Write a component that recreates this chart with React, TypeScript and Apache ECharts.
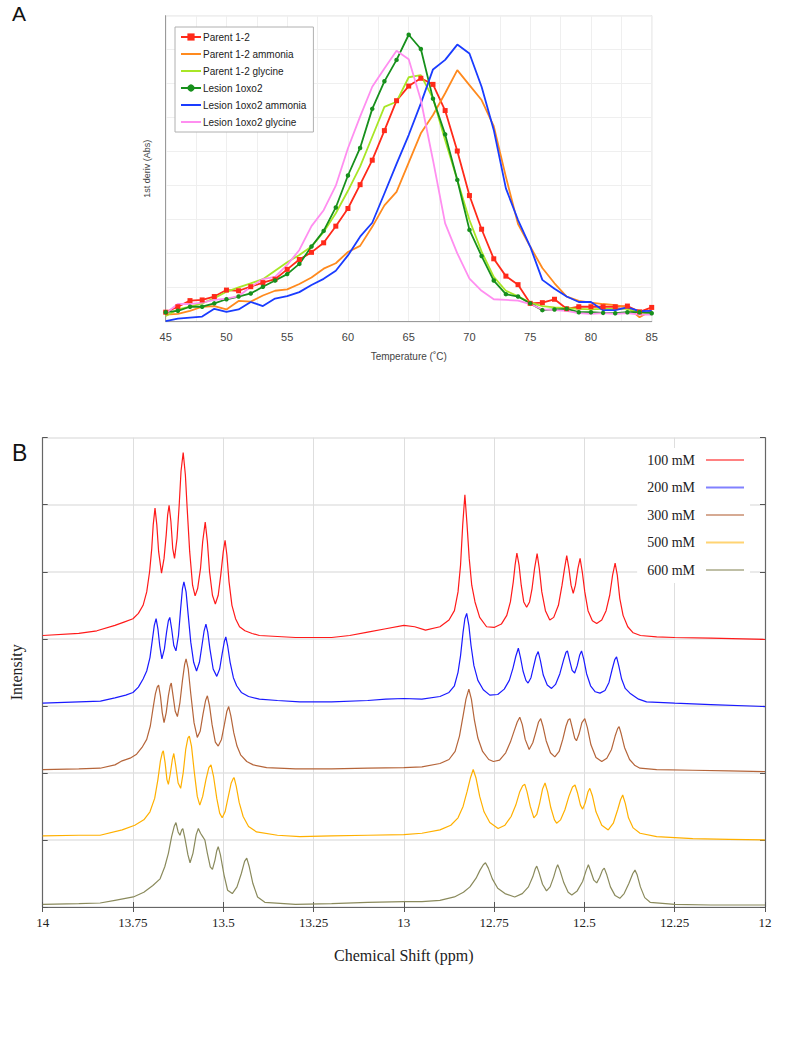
import React, { useEffect, useRef } from "react";
import * as echarts from "echarts";

// ---------- Panel A: melting curves (1st derivative) ----------
const temps = [45,46,47,48,49,50,51,52,53,54,55,56,57,58,59,60,61,62,63,64,65,66,67,68,69,70,71,72,73,74,75,76,77,78,79,80,81,82,83,84,85];
const parent12 = [0.28,0.44,0.62,0.64,0.74,0.93,0.91,1.03,1.15,1.25,1.54,1.83,2.04,2.32,2.81,3.33,4.03,4.75,5.62,6.5,6.93,7.16,6.98,6.21,5.02,3.71,2.72,1.85,1.34,1.09,0.54,0.56,0.66,0.38,0.44,0.44,0.44,0.44,0.46,0.29,0.42];
const parent12Ammonia = [0.21,0.23,0.32,0.44,0.46,0.36,0.61,0.59,0.77,0.91,0.95,1.11,1.3,1.56,1.72,2.05,2.23,2.79,3.42,3.82,4.68,5.54,6.08,6.72,7.4,6.96,6.52,5.75,4.26,2.87,2.21,1.58,1.13,0.74,0.61,0.56,0.52,0.49,0.42,0.13,0.34];
const parent12Glycine = [0.17,0.36,0.44,0.54,0.69,0.88,1.01,1.13,1.25,1.5,1.75,1.96,2.21,2.64,3.19,3.85,4.56,5.44,6.32,6.47,7.19,7.25,6.57,5.34,4.17,2.99,2.06,1.32,0.91,0.75,0.56,0.46,0.42,0.4,0.38,0.36,0.38,0.38,0.38,0.26,0.25];
const lesion1oxo2 = [0.28,0.32,0.44,0.44,0.54,0.66,0.74,0.83,1.03,1.21,1.4,1.7,2.21,2.67,3.36,4.3,5.11,6.26,7.07,7.7,8.44,8.02,6.56,5.51,4.17,2.7,1.93,1.21,0.81,0.74,0.54,0.34,0.36,0.38,0.28,0.28,0.26,0.25,0.28,0.28,0.25];
const lesion1oxo2Ammonia = [0.02,0.09,0.12,0.15,0.38,0.29,0.36,0.58,0.46,0.68,0.75,0.87,1.08,1.26,1.5,1.95,2.5,2.91,3.77,4.64,5.49,6.42,7.42,7.7,8.15,7.89,6.91,5.64,3.92,2.99,2.21,1.23,0.97,0.74,0.58,0.58,0.34,0.34,0.42,0.31,0.32];
const lesion1oxo2Glycine = [0.25,0.52,0.52,0.56,0.64,0.68,0.75,1.03,1.25,1.32,1.67,2.11,2.81,3.28,4.0,5.1,6.03,6.91,7.45,7.97,7.72,6.52,4.75,2.89,2.01,1.27,0.91,0.66,0.64,0.62,0.52,0.36,0.34,0.32,0.25,0.23,0.25,0.23,0.25,0.21,0.21];
const tempTicks = [45, 50, 55, 60, 65, 70, 75, 80, 85];

// ---------- Panel B: NMR imino spectra, [ppm, intensity] ----------
const spec100: [number, number][] = [
  [14.0,4.05],[13.9,4.08],[13.85,4.12],[13.8,4.2],[13.775,4.25],[13.75,4.3],[13.735,4.38],[13.722,4.5],[13.712,4.7],[13.704,5.0],[13.698,5.35],[13.694,5.7],[13.689,5.95],[13.684,5.7],[13.679,5.3],[13.671,4.98],[13.664,5.2],[13.658,5.55],[13.654,5.85],[13.65,5.99],[13.645,5.75],[13.64,5.35],[13.635,5.2],[13.628,5.5],[13.622,6.0],[13.617,6.5],[13.611,6.78],[13.605,6.45],[13.6,5.95],[13.593,5.3],[13.585,4.8],[13.578,4.64],[13.571,4.75],[13.563,5.05],[13.557,5.45],[13.55,5.74],[13.544,5.45],[13.538,5.0],[13.53,4.65],[13.522,4.52],[13.514,4.65],[13.507,4.95],[13.5,5.3],[13.495,5.47],[13.49,5.25],[13.484,4.85],[13.476,4.5],[13.466,4.3],[13.455,4.18],[13.44,4.12],[13.42,4.08],[13.4,4.05],[13.3,4.02],[13.2,4.02],[13.15,4.05],[13.1,4.1],[13.05,4.15],[13.0,4.2],[12.97,4.18],[12.94,4.13],[12.9,4.18],[12.875,4.28],[12.86,4.42],[12.85,4.7],[12.843,5.1],[12.837,5.7],[12.831,6.15],[12.825,5.7],[12.819,5.2],[12.812,4.8],[12.803,4.55],[12.79,4.32],[12.771,4.18],[12.75,4.17],[12.73,4.22],[12.715,4.35],[12.705,4.55],[12.697,4.85],[12.692,5.1],[12.687,5.28],[12.681,5.1],[12.675,4.8],[12.668,4.55],[12.66,4.47],[12.652,4.55],[12.645,4.75],[12.638,5.05],[12.631,5.27],[12.625,5.05],[12.618,4.7],[12.608,4.42],[12.596,4.28],[12.585,4.32],[12.572,4.5],[12.562,4.8],[12.555,5.05],[12.549,5.24],[12.543,5.05],[12.537,4.8],[12.531,4.68],[12.525,4.8],[12.518,5.05],[12.512,5.2],[12.506,5.0],[12.499,4.7],[12.49,4.42],[12.478,4.27],[12.466,4.23],[12.452,4.28],[12.44,4.42],[12.43,4.65],[12.422,4.95],[12.415,5.13],[12.409,4.95],[12.402,4.6],[12.393,4.35],[12.38,4.18],[12.365,4.09],[12.345,4.05],[12.3,4.03],[12.25,4.02],[12.15,4.01],[12.0,3.99]
];
const spec200: [number, number][] = [
  [14.0,3.04],[13.9,3.06],[13.84,3.07],[13.8,3.12],[13.77,3.16],[13.75,3.2],[13.735,3.28],[13.722,3.4],[13.712,3.52],[13.703,3.72],[13.696,4.0],[13.691,4.2],[13.686,4.3],[13.681,4.15],[13.676,3.9],[13.67,3.7],[13.663,3.85],[13.657,4.1],[13.652,4.27],[13.648,4.32],[13.643,4.15],[13.637,3.9],[13.631,3.82],[13.624,4.05],[13.618,4.45],[13.613,4.75],[13.609,4.85],[13.603,4.7],[13.597,4.35],[13.59,3.95],[13.582,3.65],[13.574,3.52],[13.566,3.65],[13.559,3.9],[13.553,4.12],[13.548,4.22],[13.543,4.1],[13.537,3.85],[13.528,3.55],[13.518,3.44],[13.51,3.55],[13.503,3.78],[13.497,3.96],[13.493,4.03],[13.488,3.9],[13.481,3.65],[13.472,3.42],[13.463,3.3],[13.45,3.2],[13.43,3.14],[13.4,3.1],[13.35,3.08],[13.288,3.06],[13.2,3.06],[13.1,3.08],[13.05,3.1],[13.0,3.11],[12.95,3.1],[12.9,3.14],[12.875,3.2],[12.86,3.3],[12.85,3.5],[12.843,3.75],[12.836,4.1],[12.831,4.3],[12.826,4.38],[12.82,4.2],[12.814,3.9],[12.806,3.6],[12.795,3.38],[12.78,3.24],[12.762,3.16],[12.74,3.17],[12.722,3.25],[12.708,3.38],[12.698,3.56],[12.69,3.74],[12.683,3.86],[12.677,3.72],[12.67,3.52],[12.662,3.38],[12.656,3.34],[12.648,3.42],[12.641,3.58],[12.634,3.74],[12.628,3.81],[12.622,3.68],[12.614,3.46],[12.603,3.31],[12.591,3.26],[12.58,3.32],[12.568,3.48],[12.558,3.68],[12.551,3.8],[12.547,3.82],[12.541,3.68],[12.534,3.53],[12.527,3.49],[12.52,3.6],[12.513,3.76],[12.508,3.82],[12.502,3.7],[12.494,3.48],[12.483,3.3],[12.47,3.21],[12.457,3.19],[12.443,3.23],[12.432,3.35],[12.423,3.55],[12.416,3.69],[12.411,3.73],[12.405,3.6],[12.397,3.4],[12.387,3.26],[12.374,3.19],[12.35,3.1],[12.328,3.06],[12.25,3.04],[12.15,3.02],[12.0,2.99]
];
const spec300: [number, number][] = [
  [14.0,2.05],[13.9,2.06],[13.841,2.07],[13.8,2.12],[13.78,2.18],[13.758,2.22],[13.74,2.28],[13.725,2.38],[13.712,2.5],[13.702,2.7],[13.694,2.98],[13.688,3.18],[13.683,3.28],[13.679,3.31],[13.674,3.15],[13.669,2.9],[13.664,2.75],[13.658,2.9],[13.652,3.15],[13.647,3.3],[13.644,3.34],[13.639,3.15],[13.633,2.92],[13.627,2.84],[13.62,3.05],[13.613,3.38],[13.607,3.62],[13.603,3.7],[13.597,3.55],[13.59,3.18],[13.581,2.75],[13.572,2.53],[13.564,2.62],[13.556,2.88],[13.549,3.08],[13.544,3.15],[13.538,3.0],[13.531,2.72],[13.522,2.46],[13.514,2.4],[13.505,2.5],[13.497,2.72],[13.49,2.92],[13.485,2.99],[13.479,2.85],[13.471,2.6],[13.462,2.4],[13.452,2.27],[13.435,2.17],[13.417,2.12],[13.38,2.08],[13.3,2.06],[13.2,2.06],[13.1,2.07],[13.0,2.08],[12.95,2.09],[12.9,2.14],[12.875,2.2],[12.858,2.32],[12.846,2.55],[12.836,2.85],[12.828,3.1],[12.82,3.25],[12.813,3.1],[12.805,2.8],[12.795,2.52],[12.782,2.32],[12.765,2.2],[12.752,2.17],[12.735,2.19],[12.718,2.3],[12.705,2.46],[12.695,2.62],[12.686,2.76],[12.679,2.83],[12.672,2.72],[12.664,2.5],[12.653,2.35],[12.643,2.45],[12.634,2.62],[12.627,2.76],[12.621,2.81],[12.615,2.7],[12.606,2.48],[12.594,2.3],[12.582,2.24],[12.57,2.32],[12.56,2.5],[12.551,2.7],[12.545,2.79],[12.54,2.81],[12.534,2.68],[12.527,2.52],[12.522,2.48],[12.515,2.58],[12.507,2.75],[12.499,2.81],[12.492,2.68],[12.482,2.42],[12.468,2.23],[12.452,2.17],[12.438,2.22],[12.425,2.35],[12.415,2.55],[12.408,2.66],[12.404,2.69],[12.398,2.58],[12.389,2.38],[12.375,2.2],[12.36,2.11],[12.346,2.07],[12.3,2.05],[12.2,2.04],[12.1,2.03],[12.0,2.02]
];
const spec500: [number, number][] = [
  [14.0,1.06],[13.9,1.07],[13.841,1.07],[13.78,1.15],[13.745,1.22],[13.72,1.3],[13.703,1.42],[13.69,1.62],[13.681,1.9],[13.674,2.18],[13.669,2.3],[13.666,2.33],[13.661,2.15],[13.656,1.9],[13.652,1.83],[13.647,1.98],[13.641,2.2],[13.637,2.29],[13.632,2.12],[13.625,1.85],[13.618,1.77],[13.611,2.0],[13.604,2.35],[13.598,2.52],[13.594,2.55],[13.588,2.4],[13.58,2.0],[13.572,1.65],[13.565,1.52],[13.557,1.65],[13.548,1.9],[13.54,2.08],[13.534,2.12],[13.527,1.95],[13.518,1.62],[13.51,1.4],[13.503,1.33],[13.495,1.42],[13.486,1.65],[13.478,1.85],[13.472,1.92],[13.47,1.93],[13.464,1.8],[13.456,1.56],[13.445,1.35],[13.43,1.2],[13.408,1.12],[13.35,1.07],[13.288,1.05],[13.2,1.06],[13.1,1.07],[13.0,1.08],[12.95,1.1],[12.9,1.15],[12.87,1.22],[12.85,1.33],[12.836,1.5],[12.825,1.72],[12.816,1.92],[12.808,2.05],[12.8,1.92],[12.79,1.65],[12.778,1.42],[12.762,1.26],[12.739,1.17],[12.72,1.22],[12.703,1.35],[12.69,1.52],[12.679,1.72],[12.671,1.81],[12.665,1.83],[12.659,1.72],[12.65,1.5],[12.64,1.33],[12.632,1.38],[12.624,1.55],[12.616,1.76],[12.609,1.85],[12.602,1.72],[12.593,1.48],[12.583,1.3],[12.577,1.25],[12.566,1.3],[12.554,1.45],[12.543,1.65],[12.533,1.79],[12.526,1.82],[12.519,1.7],[12.511,1.52],[12.505,1.46],[12.498,1.55],[12.49,1.72],[12.485,1.77],[12.478,1.66],[12.468,1.42],[12.452,1.22],[12.434,1.15],[12.42,1.25],[12.408,1.45],[12.4,1.6],[12.394,1.67],[12.387,1.55],[12.378,1.33],[12.365,1.18],[12.346,1.1],[12.3,1.05],[12.2,1.02],[12.1,1.01],[12.0,1.0]
];
const spec600: [number, number][] = [
  [14.0,0.04],[13.9,0.05],[13.841,0.06],[13.8,0.1],[13.749,0.15],[13.72,0.22],[13.695,0.32],[13.675,0.42],[13.662,0.6],[13.652,0.8],[13.643,1.05],[13.636,1.2],[13.631,1.26],[13.625,1.12],[13.62,1.07],[13.615,1.15],[13.612,1.17],[13.606,1.02],[13.598,0.78],[13.592,0.66],[13.584,0.8],[13.575,1.08],[13.569,1.17],[13.563,1.1],[13.557,1.05],[13.551,1.0],[13.544,0.8],[13.536,0.6],[13.53,0.56],[13.523,0.7],[13.518,0.84],[13.514,0.9],[13.508,0.78],[13.498,0.48],[13.488,0.25],[13.475,0.2],[13.462,0.3],[13.45,0.5],[13.441,0.68],[13.435,0.73],[13.428,0.6],[13.418,0.35],[13.405,0.15],[13.385,0.07],[13.3,0.04],[13.2,0.05],[13.1,0.07],[13.0,0.08],[12.95,0.08],[12.9,0.1],[12.86,0.15],[12.835,0.22],[12.817,0.3],[12.8,0.43],[12.789,0.55],[12.78,0.63],[12.774,0.66],[12.766,0.58],[12.755,0.42],[12.74,0.28],[12.72,0.2],[12.693,0.15],[12.672,0.2],[12.655,0.3],[12.643,0.45],[12.636,0.57],[12.632,0.61],[12.626,0.52],[12.616,0.34],[12.605,0.24],[12.595,0.3],[12.585,0.45],[12.578,0.58],[12.574,0.63],[12.568,0.55],[12.557,0.36],[12.545,0.22],[12.535,0.18],[12.52,0.24],[12.505,0.38],[12.495,0.55],[12.489,0.63],[12.483,0.54],[12.474,0.4],[12.466,0.36],[12.458,0.44],[12.45,0.55],[12.445,0.58],[12.438,0.48],[12.428,0.3],[12.415,0.17],[12.402,0.13],[12.39,0.2],[12.377,0.35],[12.366,0.5],[12.36,0.55],[12.354,0.48],[12.345,0.3],[12.333,0.14],[12.318,0.07],[12.25,0.04],[12.15,0.03],[12.0,0.03]
];

const seriesA = [
  { name: "Parent 1-2", values: parent12, color: "#ff2a1a", symbol: "rect" },
  { name: "Parent 1-2 ammonia", values: parent12Ammonia, color: "#ff8a1e", symbol: "none" },
  { name: "Parent 1-2 glycine", values: parent12Glycine, color: "#a8e626", symbol: "none" },
  { name: "Lesion 1oxo2", values: lesion1oxo2, color: "#17901c", symbol: "circle" },
  { name: "Lesion 1oxo2 ammonia", values: lesion1oxo2Ammonia, color: "#1a3cff", symbol: "none" },
  { name: "Lesion 1oxo2 glycine", values: lesion1oxo2Glycine, color: "#ff8ef0", symbol: "none" },
];
const seriesB = [
  { name: "100 mM", data: spec100, color: "#ff1a1a" },
  { name: "200 mM", data: spec200, color: "#1a1aff" },
  { name: "300 mM", data: spec300, color: "#b5653a" },
  { name: "500 mM", data: spec500, color: "#ffb000" },
  { name: "600 mM", data: spec600, color: "#8a8a5c" },
];

const SANS = "Liberation Sans, Arial, sans-serif";
const SERIF = "Liberation Serif, Times New Roman, serif";

export default function App() {
  const ref = useRef<HTMLDivElement>(null);
  useEffect(() => {
    if (!ref.current) return;
    const chart = echarts.init(ref.current, undefined, { renderer: "svg" });
    const option: any = {
      animation: false,
      backgroundColor: "#ffffff",
      graphic: [
        { type: "text", left: 12, top: 3, style: { text: "A", fontFamily: SANS, fontSize: 21, fill: "#111" } },
        { type: "text", left: 12, top: 441, style: { text: "B", fontFamily: SANS, fontSize: 23, fill: "#111" } },
      ],
      grid: [
        { left: 165.7, top: 15.7, width: 486, height: 306, show: true, borderColor: "#bdbdbd", borderWidth: 1, backgroundColor: "transparent" },
        { left: 42.7, top: 437.7, width: 722.3, height: 469.3, show: false },
      ],
      legend: [
        {
          data: seriesA.map((s) =>
            s.symbol === "none"
              ? { name: s.name, itemStyle: { opacity: 0, color: "rgba(0,0,0,0)", borderWidth: 0 } }
              : { name: s.name }
          ),
          orient: "vertical",
          left: 175,
          top: 27,
          itemWidth: 20,
          itemHeight: 9,
          itemGap: 7,
          padding: [5, 7, 5, 5],
          borderColor: "#b0b0b0",
          borderWidth: 1,
          backgroundColor: "#ffffff",
          textStyle: { fontFamily: SANS, fontSize: 10, color: "#222", padding: [0, 0, 0, -3] },
        },
        {
          data: seriesB.map((s) => ({ name: s.name, icon: "rect", itemStyle: { opacity: 0.55 } })),
          orient: "vertical",
          right: 43,
          top: 448,
          align: "right",
          itemWidth: 38,
          itemHeight: 2,
          itemGap: 13.5,
          padding: [5, 6, 6, 10],
          backgroundColor: "#ffffff",
          textStyle: { fontFamily: SERIF, fontSize: 14, color: "#222", padding: [0, 6, 0, 0] },
        },
      ],
      xAxis: [
        {
          gridIndex: 0,
          type: "value",
          min: 45,
          max: 85,
          interval: 2.5,
          axisLine: { show: true, lineStyle: { color: "#9a9a9a" } },
          axisTick: { show: false },
          splitLine: { show: true, lineStyle: { color: "#efefef" } },
          axisLabel: {
            fontFamily: SANS,
            fontSize: 11,
            color: "#444",
            margin: 10,
            formatter: (v: number) => (tempTicks.indexOf(v) >= 0 ? String(v) : ""),
          },
          name: "Temperature (˚C)",
          nameLocation: "middle",
          nameGap: 30,
          nameTextStyle: { fontFamily: SANS, fontSize: 10, color: "#444" },
        },
        {
          gridIndex: 1,
          type: "value",
          min: 12,
          max: 14,
          interval: 0.25,
          inverse: true,
          axisLine: { show: true, lineStyle: { color: "#666", width: 1.2 } },
          axisTick: { show: true, inside: true, length: 5, lineStyle: { color: "#555" } },
          splitLine: { show: true, lineStyle: { color: "#dedede", width: 1 } },
          axisLabel: { fontFamily: SERIF, fontSize: 13, color: "#222", margin: 9 },
          name: "Chemical Shift (ppm)",
          nameLocation: "middle",
          nameGap: 40,
          nameTextStyle: { fontFamily: SERIF, fontSize: 16, color: "#222" },
        },
        {
          gridIndex: 1,
          type: "value",
          position: "top",
          min: 12,
          max: 14,
          interval: 0.25,
          inverse: true,
          axisLine: { show: true, lineStyle: { color: "#666", width: 1.2 } },
          axisTick: { show: true, inside: true, length: 5, lineStyle: { color: "#555" } },
          splitLine: { show: false },
          axisLabel: { show: false },
        },
      ],
      yAxis: [
        {
          gridIndex: 0,
          type: "value",
          min: 0,
          max: 9,
          interval: 1,
          axisLine: { show: true, lineStyle: { color: "#9a9a9a" } },
          axisTick: { show: false },
          axisLabel: { show: false },
          splitLine: { show: true, lineStyle: { color: "#efefef" } },
          name: "1st deriv (Abs)",
          nameLocation: "middle",
          nameGap: 14,
          nameTextStyle: { fontFamily: SANS, fontSize: 9, color: "#444" },
        },
        {
          gridIndex: 1,
          type: "value",
          min: 0,
          max: 7,
          interval: 1,
          axisLine: { show: true, lineStyle: { color: "#666", width: 1.2 } },
          axisTick: { show: true, inside: true, length: 5, lineStyle: { color: "#555" } },
          axisLabel: { show: false },
          splitLine: { show: true, lineStyle: { color: "#e3e3e3", width: 1.5 } },
          name: "Intensity",
          nameLocation: "middle",
          nameGap: 18,
          nameTextStyle: { fontFamily: SERIF, fontSize: 16, color: "#222" },
        },
        {
          gridIndex: 1,
          type: "value",
          position: "right",
          min: 0,
          max: 7,
          interval: 1,
          axisLine: { show: true, lineStyle: { color: "#666", width: 1.2 } },
          axisTick: { show: true, inside: true, length: 5, lineStyle: { color: "#555" } },
          axisLabel: { show: false },
          splitLine: { show: false },
        },
      ],
      series: [
        ...seriesA.map((s) => ({
          name: s.name,
          type: "line",
          xAxisIndex: 0,
          yAxisIndex: 0,
          data: temps.map((t, i) => [t, s.values[i]]),
          symbol: s.symbol,
          symbolSize: s.symbol === "rect" ? 5 : 4.5,
          showSymbol: s.symbol !== "none",
          color: s.color,
          lineStyle: { color: s.color, width: 1.8 },
          itemStyle: { color: s.color },
          z: 3,
        })),
        ...seriesB.map((s) => ({
          name: s.name,
          type: "line",
          xAxisIndex: 1,
          yAxisIndex: 1,
          data: s.data,
          symbol: "none",
          color: s.color,
          lineStyle: { color: s.color, width: 1.2 },
          z: 3,
        })),
      ],
    };
    chart.setOption(option);
    return () => chart.dispose();
  }, []);
  return (
    <div
      ref={ref}
      style={{ position: "absolute", left: 0, top: 0, width: 793, height: 1050, background: "#fff" }}
    />
  );
}
